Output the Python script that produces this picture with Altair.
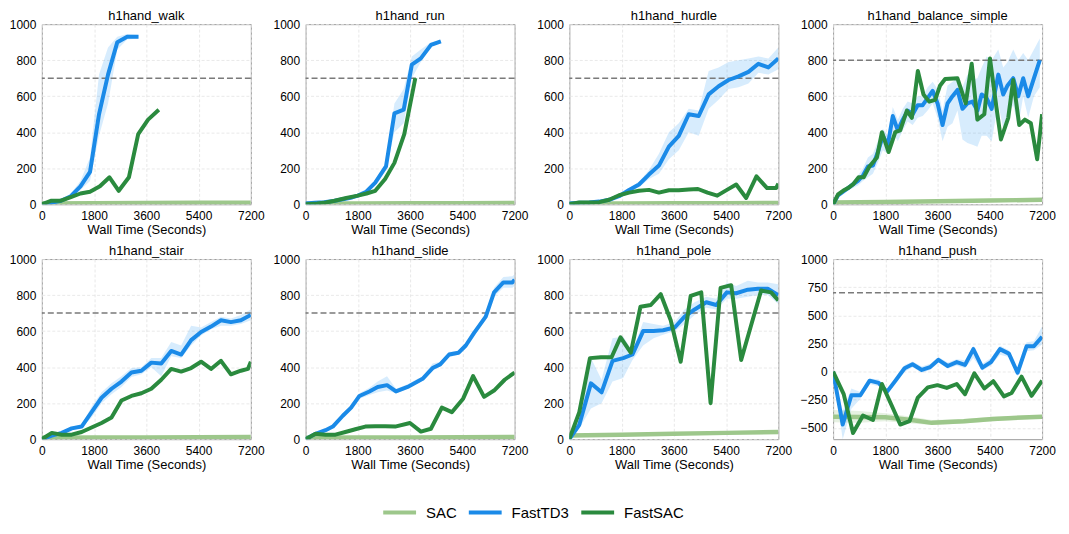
import altair as alt
import pandas as pd

TICKS_X = [0, 1800, 3600, 5400, 7200]
TICKS_Y = [0, 200, 400, 600, 800, 1000]
TICKS_Y_PUSH = [-500, -250, 0, 250, 500, 750, 1000]
ALGOS = ["SAC", "FastTD3", "FastSAC"]
COLORS = ["#9dc78b", "#1a8ae8", "#2a8a3e"]
G = [0, 343, 686, 1029, 1371, 1714, 2057, 2400, 2743, 3086, 3429, 3771,
     4114, 4457, 4800, 5143, 5486, 5829, 6171, 6514, 6857, 7200]
SAC_T = [0, 1800, 3600, 5400, 7200]

# ---- h1hand_walk ----
walk_sac = [5, 6, 7, 8, 9]
walk_sac_lo = [2, 3, 4, 5, 6]
walk_sac_hi = [8, 9, 10, 11, 12]
walk_td3_t = [0, 330, 660, 1000, 1330, 1660, 1970, 2280, 2600, 2940, 3330]
walk_td3 = [0, 10, 20, 45, 100, 180, 500, 720, 900, 930, 930]
walk_td3_lo = [0, 8, 15, 35, 80, 130, 380, 560, 860, 915, 920]
walk_td3_hi = [0, 14, 25, 60, 130, 260, 720, 870, 930, 945, 940]
walk_fs_t = [0, 330, 660, 1000, 1330, 1660, 2000, 2330, 2650, 3000, 3320, 3660, 4030]
walk_fs = [0, 20, 20, 40, 60, 70, 100, 150, 75, 150, 390, 470, 525]

# ---- h1hand_run ----
run_sac = [5, 5, 6, 6, 7]
run_sac_lo = [2, 2, 3, 3, 4]
run_sac_hi = [8, 8, 9, 9, 10]
run_td3_t = [0, 320, 640, 960, 1280, 1600, 1800, 2090, 2400, 2770, 3060, 3380, 3660, 3970, 4320, 4660]
run_td3 = [5, 8, 12, 18, 28, 38, 48, 70, 120, 210, 505, 525, 775, 810, 885, 905]
run_td3_lo = [3, 6, 10, 15, 24, 33, 42, 62, 105, 190, 400, 450, 700, 790, 875, 900]
run_td3_hi = [7, 10, 14, 21, 32, 43, 54, 78, 135, 230, 560, 640, 820, 860, 900, 910]
run_fs_t = [0, 400, 700, 1000, 1400, 1800, 2100, 2400, 2740, 3060, 3400, 3780]
run_fs = [0, 5, 10, 20, 35, 48, 60, 75, 140, 230, 390, 700]

# ---- h1hand_hurdle ----
hurdle_sac = [5, 5, 6, 6, 7]
hurdle_sac_lo = [2, 2, 3, 3, 4]
hurdle_sac_hi = [8, 8, 9, 9, 10]
hurdle_td3 = [5, 8, 10, 15, 25, 45, 80, 110, 165, 215, 320, 380, 500, 490, 610, 655, 690, 710, 735, 780, 760, 810]
hurdle_td3_lo = [4, 6, 8, 12, 20, 40, 70, 95, 140, 170, 250, 300, 400, 380, 530, 580, 640, 650, 670, 730, 720, 750]
hurdle_td3_hi = [6, 10, 12, 18, 30, 50, 90, 125, 190, 280, 400, 450, 530, 520, 740, 760, 790, 800, 810, 820, 810, 870]
hurdle_fs_t = [0, 343, 686, 1029, 1371, 1714, 2057, 2400, 2743, 3086, 3429, 3771, 4114, 4431, 4760,
               5095, 5430, 5748, 6092, 6446, 6813, 7122, 7200]
hurdle_fs = [0, 10, 10, 12, 25, 50, 65, 75, 80, 65, 78, 78, 82, 85, 65, 48, 80, 110, 35, 155, 90, 90, 115]

# ---- h1hand_balance_simple ----
bal_sac = [10, 13, 17, 21, 25]
bal_sac_lo = [4, 6, 9, 12, 15]
bal_sac_hi = [16, 20, 25, 30, 35]
bal_td3_t = [0, 171, 343, 514, 686, 857, 1029, 1200, 1371, 1543, 1714, 1886, 2057, 2229, 2400, 2571,
             2743, 2914, 3086, 3257, 3429, 3600, 3771, 3943, 4114, 4286, 4457, 4629, 4800, 4971,
             5118, 5290, 5462, 5691, 5862, 6011, 6206, 6378, 6549, 6721, 6920, 7122]
bal_td3 = [0, 50, 70, 90, 110, 130, 160, 210, 215, 290, 380, 330, 490, 410, 470, 520, 500, 550, 550,
           590, 630, 560, 440, 560, 600, 635, 530, 560, 570, 520, 610, 590, 530, 720, 610, 660, 700,
           600, 700, 600, 700, 800]
bal_td3_lo = [0, 40, 55, 75, 90, 105, 130, 150, 170, 230, 300, 280, 400, 350, 410, 460, 440, 480, 490,
              520, 560, 480, 350, 430, 450, 520, 360, 340, 330, 320, 380, 380, 350, 560, 420, 500, 550,
              430, 600, 480, 600, 650]
bal_td3_hi = [0, 60, 85, 105, 130, 160, 200, 260, 280, 350, 420, 380, 540, 470, 530, 570, 560, 600, 600,
              650, 680, 640, 520, 660, 680, 700, 650, 720, 690, 700, 760, 820, 800, 860, 760, 790, 860,
              800, 840, 800, 860, 920]
bal_fs_t = [0, 171, 343, 514, 686, 880, 1053, 1250, 1511, 1683, 1912, 2141, 2313, 2542, 2714, 2920,
            3114, 3309, 3515, 3687, 3859, 4282, 4569, 4775, 4970, 5210, 5404, 5600, 5782, 6034, 6206,
            6412, 6607, 6813, 7030, 7200]
bal_fs = [0, 55, 75, 90, 110, 150, 150, 210, 260, 400, 290, 400, 410, 520, 480, 740, 610, 570, 580,
          660, 695, 700, 560, 780, 470, 500, 810, 570, 360, 480, 690, 440, 470, 450, 250, 500]

# ---- h1hand_stair ----
stair_sac = [8, 9, 10, 11, 12]
stair_sac_lo = [4, 5, 6, 7, 8]
stair_sac_hi = [12, 13, 14, 15, 16]
stair_td3 = [0, 20, 35, 60, 70, 150, 230, 280, 320, 370, 380, 425, 420, 490, 470, 550, 595, 625, 660, 650, 660, 690]
stair_td3_lo = [0, 15, 28, 50, 62, 120, 200, 250, 290, 345, 360, 400, 350, 460, 450, 520, 575, 610, 630, 630, 640, 660]
stair_td3_hi = [0, 25, 42, 70, 80, 180, 260, 310, 350, 395, 400, 450, 450, 540, 520, 630, 620, 650, 680, 670, 690, 720]
stair_fs_t = [0, 343, 686, 1029, 1371, 1714, 2057, 2400, 2743, 3086, 3429, 3771, 4114, 4457, 4800,
              5143, 5486, 5829, 6171, 6514, 6857, 7100, 7200]
stair_fs = [0, 35, 25, 25, 40, 65, 90, 120, 215, 240, 255, 280, 330, 390, 375, 395, 430, 390, 435, 360, 380, 390, 430]

# ---- h1hand_slide ----
slide_sac = [8, 9, 10, 11, 12]
slide_sac_lo = [4, 5, 6, 7, 8]
slide_sac_hi = [12, 13, 14, 15, 16]
slide_td3_t = [0, 343, 686, 939, 1282, 1569, 1855, 2198, 2484, 2805, 3114, 3515, 3859, 4030, 4374,
               4637, 4946, 5267, 5519, 5805, 6206, 6492, 6813, 7122, 7200]
slide_td3 = [0, 30, 50, 70, 130, 175, 240, 265, 290, 300, 265, 290, 320, 335, 395, 415, 470, 480, 520,
             590, 680, 815, 870, 870, 885]
slide_td3_lo = [0, 26, 45, 64, 120, 165, 225, 245, 260, 270, 255, 280, 310, 325, 380, 405, 455, 470, 510,
                575, 665, 790, 840, 840, 850]
slide_td3_hi = [0, 34, 55, 76, 140, 185, 255, 285, 320, 350, 280, 305, 335, 345, 420, 430, 485, 490, 535,
                605, 695, 840, 900, 905, 915]
slide_fs_t = [0, 343, 686, 1029, 1371, 1714, 2057, 2400, 2743, 3086, 3595, 3973, 4317, 4694, 5038,
              5427, 5771, 6149, 6492, 6859, 7200]
slide_fs = [0, 30, 25, 25, 40, 55, 70, 72, 72, 70, 90, 42, 58, 175, 150, 225, 350, 235, 270, 330, 370]

# ---- h1hand_pole ----
pole_sac = [20, 25, 30, 35, 40]
pole_sac_lo = [14, 18, 23, 28, 32]
pole_sac_hi = [26, 32, 37, 42, 48]
pole_td3_t = [0, 343, 744, 1110, 1488, 1855, 2175, 2542, 2900, 3229, 3630, 3970, 4317, 4717, 5061,
              5427, 5748, 6149, 6500, 6836, 7200]
pole_td3 = [0, 80, 310, 260, 435, 450, 470, 600, 600, 605, 620, 680, 720, 760, 745, 815, 810, 830, 835, 835, 800]
pole_td3_lo = [0, 60, 170, 200, 320, 340, 440, 520, 560, 580, 600, 640, 690, 730, 720, 780, 780, 790, 800, 800, 750]
pole_td3_hi = [0, 120, 450, 330, 560, 570, 490, 650, 640, 630, 650, 720, 760, 790, 780, 870, 850, 880, 870, 870, 860]
pole_fs_t = [0, 343, 710, 1088, 1454, 1763, 2118, 2450, 2805, 3149, 3492, 3836, 4179, 4545, 4866,
             5210, 5576, 5920, 6240, 6607, 6950, 7200]
pole_fs = [0, 150, 450, 455, 455, 565, 480, 735, 745, 805, 660, 430, 795, 815, 200, 840, 855, 440, 620, 825, 815, 770]

# ---- h1hand_push ----
push_sac_t = [0, 900, 1800, 2700, 3400, 4500, 5500, 7200]
push_sac = [-400, -402, -405, -430, -455, -440, -420, -400]
push_sac_lo = [-450, -455, -440, -460, -475, -460, -440, -415]
push_sac_hi = [-340, -350, -370, -400, -430, -420, -400, -385]
push_td3_t = [0, 332, 630, 939, 1260, 1569, 1855, 2150, 2462, 2737, 3057, 3343, 3630, 3950, 4260,
              4545, 4832, 5141, 5439, 5748, 6057, 6355, 6664, 6916, 7200]
push_td3 = [0, -470, -210, -210, -80, -100, -180, -80, 30, 65, 15, 40, 105, 50, 85, 60, 200, 35, 85,
            200, 160, -10, 225, 225, 310]
push_td3_lo = [0, -600, -330, -240, -110, -130, -200, -110, 0, 40, -10, 15, 80, 25, 55, 30, 120, 10, 55,
               150, 130, -40, 180, 190, 240]
push_td3_hi = [0, -350, -150, -180, -60, -70, -150, -50, 60, 90, 45, 70, 130, 80, 110, 100, 230, 70, 120,
               230, 190, 20, 260, 270, 400]
push_fs_t = [0, 366, 687, 1030, 1374, 1683, 2000, 2313, 2634, 2920, 3263, 3595, 3916, 4260, 4545,
             4866, 5210, 5519, 5885, 6149, 6492, 6836, 7200]
push_fs = [0, -200, -545, -390, -430, -110, -290, -470, -440, -230, -140, -120, -145, -110, -200, -15,
           -150, -85, -220, -190, -45, -215, -80]

FONT = "Liberation Sans"

color_enc = alt.Color(
    "algo:N",
    scale=alt.Scale(domain=ALGOS, range=COLORS),
    legend=alt.Legend(
        title=None, orient="none", direction="horizontal", legendX=341, legendY=472,
        symbolType="stroke", symbolStrokeWidth=4, symbolSize=1089, symbolOpacity=1,
        labelFontSize=15, labelFont=FONT, labelColor="#000", labelOffset=8,
        columnPadding=4, labelLimit=200,
    ),
)


def make_panel(title, target, ydom, yticks, sac, td3, fs):
    xenc = alt.X("t:Q", scale=alt.Scale(domain=[0, 7200], nice=False),
                 axis=alt.Axis(values=TICKS_X, title="Wall Time (Seconds)", format="d",
                               labelFlush=False, labelOverlap=False))
    yscale = alt.Scale(domain=ydom, nice=False)
    yaxis = alt.Axis(values=yticks, title=None, format="d", labelOverlap=False,
                     labelExpr="replace(datum.label, '-', '\u2212')")
    layers = []
    sac_t, sac_v, sac_lo, sac_hi = sac
    td3_t, td3_v, td3_lo, td3_hi = td3
    fs_t, fs_v = fs
    sac_band = pd.DataFrame({"t": sac_t, "lo": sac_lo, "hi": sac_hi})
    layers.append(alt.Chart(sac_band).mark_area(clip=True, color=COLORS[0], opacity=0.25).encode(
        x=xenc, y=alt.Y("lo:Q", scale=yscale, axis=yaxis), y2="hi:Q"))
    td3_band = pd.DataFrame({"t": td3_t, "lo": td3_lo, "hi": td3_hi})
    layers.append(alt.Chart(td3_band).mark_area(clip=True, color="#2196f3", opacity=0.18).encode(
        x=xenc, y=alt.Y("lo:Q", scale=yscale, axis=yaxis), y2="hi:Q"))
    layers.append(alt.Chart(pd.DataFrame({"target": [target]})).mark_rule(
        color="#7a7a7a", strokeDash=[6, 3], strokeWidth=1.5).encode(
        y=alt.Y("target:Q", scale=yscale, axis=yaxis)))
    for t, v, algo, w in [(sac_t, sac_v, "SAC", 4.5), (td3_t, td3_v, "FastTD3", 4), (fs_t, fs_v, "FastSAC", 4)]:
        df = pd.DataFrame({"t": t, "v": v, "algo": algo})
        layers.append(alt.Chart(df).mark_line(clip=True, strokeWidth=w, strokeJoin="round",
                                              strokeCap="butt").encode(
            x=xenc, y=alt.Y("v:Q", scale=yscale, axis=yaxis), color=color_enc))
    return alt.layer(*layers).properties(width=210, height=181, title=title)


panels = [
    make_panel("h1hand_walk", 700, [0, 1000], TICKS_Y,
               (SAC_T, walk_sac, walk_sac_lo, walk_sac_hi),
               (walk_td3_t, walk_td3, walk_td3_lo, walk_td3_hi), (walk_fs_t, walk_fs)),
    make_panel("h1hand_run", 700, [0, 1000], TICKS_Y,
               (SAC_T, run_sac, run_sac_lo, run_sac_hi),
               (run_td3_t, run_td3, run_td3_lo, run_td3_hi), (run_fs_t, run_fs)),
    make_panel("h1hand_hurdle", 700, [0, 1000], TICKS_Y,
               (SAC_T, hurdle_sac, hurdle_sac_lo, hurdle_sac_hi),
               (G, hurdle_td3, hurdle_td3_lo, hurdle_td3_hi), (hurdle_fs_t, hurdle_fs)),
    make_panel("h1hand_balance_simple", 800, [0, 1000], TICKS_Y,
               (SAC_T, bal_sac, bal_sac_lo, bal_sac_hi),
               (bal_td3_t, bal_td3, bal_td3_lo, bal_td3_hi), (bal_fs_t, bal_fs)),
    make_panel("h1hand_stair", 700, [0, 1000], TICKS_Y,
               (SAC_T, stair_sac, stair_sac_lo, stair_sac_hi),
               (G, stair_td3, stair_td3_lo, stair_td3_hi), (stair_fs_t, stair_fs)),
    make_panel("h1hand_slide", 700, [0, 1000], TICKS_Y,
               (SAC_T, slide_sac, slide_sac_lo, slide_sac_hi),
               (slide_td3_t, slide_td3, slide_td3_lo, slide_td3_hi), (slide_fs_t, slide_fs)),
    make_panel("h1hand_pole", 700, [0, 1000], TICKS_Y,
               (SAC_T, pole_sac, pole_sac_lo, pole_sac_hi),
               (pole_td3_t, pole_td3, pole_td3_lo, pole_td3_hi), (pole_fs_t, pole_fs)),
    make_panel("h1hand_push", 700, [-600, 1000], TICKS_Y_PUSH,
               (push_sac_t, push_sac, push_sac_lo, push_sac_hi),
               (push_td3_t, push_td3, push_td3_lo, push_td3_hi), (push_fs_t, push_fs)),
]

chart = alt.ConcatChart(concat=panels, columns=4, spacing=55, bounds="flush").resolve_scale(
    y="independent", x="independent"
).properties(padding={"left": 0, "top": 0, "right": 5, "bottom": 5}).configure(
    font=FONT
).configure_view(
    stroke="#9a9a9a", strokeWidth=1
).configure_axis(
    labelFont=FONT, titleFont=FONT, labelFontSize=12, titleFontSize=13, titleFontWeight="normal",
    labelColor="#000", titleColor="#000", domain=False, ticks=False, labelPadding=6, titlePadding=2,
    gridColor="#e3e3e3", gridDash=[3, 2], gridWidth=0.8,
).configure_title(
    font=FONT, fontSize=13, fontWeight="normal", color="#000", offset=-5
)

chart.save("out.html", embed_options={"renderer": "svg", "actions": False})
